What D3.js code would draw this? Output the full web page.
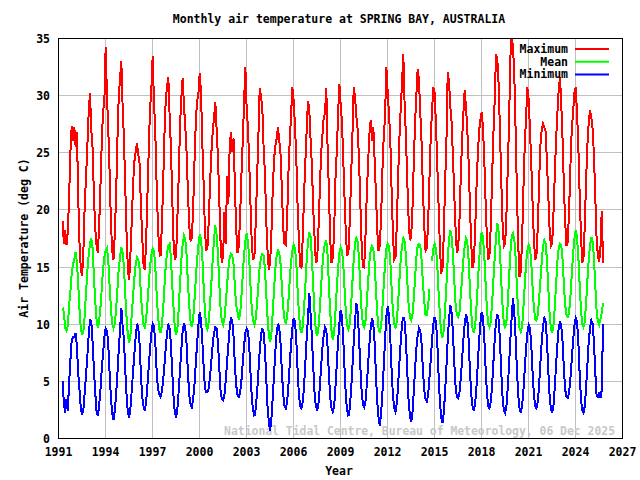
<!DOCTYPE html>
<html><head><meta charset="utf-8">
<script src="https://cdn.jsdelivr.net/npm/d3@7"></script>
<style>body{margin:0;background:#fff} svg{display:block}</style>
</head><body><svg id="c" width="640" height="480"></svg>
<script>
// ---- data ----
const startYear = 1991, startMonth = 4; // first value = April 1991, monthly values
const maxT = [
/*1991 Apr-Dec*/ 19.0,17.0,18.2,16.9,18.0,21.0,25.0,27.3,26.0,
/*1992*/ 27.2,25.5,26.8,21.0,17.0,14.7,14.2,16.5,20.5,22.8,25.6,28.4,
/*1993*/ 30.2,27.0,25.4,21.2,18.4,16.9,16.2,18.5,22.0,25.8,28.6,29.4,
/*1994*/ 34.2,30.0,27.0,23.4,19.0,16.4,15.6,17.8,21.2,26.0,29.8,31.4,
/*1995*/ 33.0,29.0,26.2,22.0,18.0,14.8,13.8,16.2,19.0,22.2,24.2,25.0,
/*1996*/ 25.8,24.8,24.0,20.4,17.6,15.2,14.7,17.2,21.2,25.2,28.8,30.5,
/*1997*/ 33.4,29.5,26.8,22.4,18.8,16.4,15.9,18.4,22.0,26.4,29.5,30.7,
/*1998*/ 31.6,28.2,25.4,21.0,17.2,15.6,16.0,19.5,23.0,27.4,29.8,31.5,
/*1999*/ 29.0,27.3,25.0,21.6,18.6,17.3,17.5,20.0,24.0,27.5,29.5,30.0,
/*2000*/ 31.9,30.4,26.0,22.4,18.4,16.4,16.8,19.0,22.4,25.0,26.8,28.0,
/*2001*/ 29.4,27.0,24.6,21.0,17.2,15.3,16.0,19.8,17.0,22.9,20.5,25.5,
/*2002*/ 26.8,25.0,26.2,22.0,18.2,16.2,16.8,19.4,23.0,26.0,29.2,32.5,
/*2003*/ 28.9,27.2,24.0,20.2,16.8,15.6,16.0,19.0,22.8,26.4,30.6,29.9,
/*2004*/ 28.9,25.4,23.2,19.0,16.4,14.7,15.4,18.0,21.8,24.4,25.6,26.2,
/*2005*/ 27.2,26.0,24.8,21.6,18.4,17.0,16.9,19.2,23.2,26.0,28.2,30.7,
/*2006*/ 29.5,27.4,24.6,20.4,17.4,15.0,14.9,17.6,21.4,24.2,27.0,29.5,
/*2007*/ 28.7,26.0,23.8,20.0,17.6,15.3,15.6,18.2,21.6,24.8,26.4,28.0,
/*2008*/ 28.4,30.6,25.4,21.6,17.4,15.3,15.8,18.0,22.6,25.0,28.2,31.0,
/*2009*/ 29.2,27.6,24.4,21.0,17.8,15.9,16.4,19.0,22.8,26.4,30.7,29.9,
/*2010*/ 28.2,27.0,24.6,20.8,17.2,15.0,14.9,17.6,21.2,24.0,26.6,27.8,
/*2011*/ 26.0,27.2,24.4,21.4,18.2,16.4,16.8,19.4,23.4,26.4,28.0,32.5,
/*2012*/ 30.3,28.4,26.2,21.8,18.0,15.6,15.8,18.6,22.8,26.2,28.8,31.0,
/*2013*/ 33.6,29.2,26.4,22.6,19.4,17.3,17.6,20.0,24.0,27.6,30.0,32.3,
/*2014*/ 31.3,28.4,25.8,21.8,18.6,16.4,16.6,18.8,22.6,26.4,28.6,30.7,
/*2015*/ 30.2,27.4,24.0,20.4,16.8,14.4,14.8,17.8,22.4,25.8,32.0,31.2,
/*2016*/ 29.0,27.6,24.6,21.4,18.4,16.2,16.6,19.0,22.8,26.0,28.4,30.4,
/*2017*/ 29.0,27.0,24.2,20.4,17.0,14.9,15.4,18.0,21.8,24.6,26.8,27.8,
/*2018*/ 28.5,27.2,24.4,20.8,17.6,15.6,16.0,18.6,22.8,26.6,29.6,33.6,
/*2019*/ 33.1,31.0,27.0,22.6,18.8,16.8,17.0,19.6,23.6,27.6,33.3,35.1,
/*2020*/ 34.2,31.8,27.0,21.6,17.0,14.1,14.6,17.4,21.8,25.6,28.0,30.7,
/*2021*/ 29.6,27.0,24.0,20.6,17.4,15.6,16.0,18.4,22.4,25.6,27.0,27.5,
/*2022*/ 27.2,26.8,24.2,21.4,18.4,16.8,17.0,19.6,23.0,26.0,28.4,30.4,
/*2023*/ 31.6,29.2,26.0,22.0,18.8,16.8,17.2,20.0,23.8,27.0,28.4,30.2,
/*2024*/ 30.7,28.6,25.8,21.6,18.0,15.3,15.8,18.6,22.6,25.6,27.6,28.7,
/*2025 Jan-Oct*/ 28.1,27.0,24.8,21.2,17.6,16.0,15.4,16.6,19.9,15.3
];
const meanT = [
/*1991 Apr-Dec*/ 11.4,11.0,9.6,9.4,9.8,11.6,12.8,14.4,15.2,
/*1992*/ 15.6,16.3,15.4,13.4,11.2,9.6,9.0,9.4,10.8,12.8,14.6,16.0,
/*1993*/ 17.0,17.5,16.6,14.2,12.0,10.4,9.6,10.2,11.4,13.0,14.8,15.8,
/*1994*/ 16.4,16.6,15.6,13.4,11.4,10.0,9.6,10.0,11.2,13.0,14.8,15.8,
/*1995*/ 16.7,16.2,15.0,12.6,10.6,9.0,8.3,9.0,10.8,12.4,14.0,15.2,
/*1996*/ 15.8,15.6,14.8,12.6,11.0,10.0,9.7,10.4,11.8,13.4,15.0,16.0,
/*1997*/ 16.6,16.4,15.0,12.8,10.8,9.6,9.2,9.8,11.2,13.2,15.0,16.2,
/*1998*/ 16.8,17.0,15.8,13.4,11.4,9.6,9.0,9.6,11.4,13.6,15.6,17.0,
/*1999*/ 17.7,17.4,16.0,13.6,11.6,10.2,9.7,10.4,12.0,13.8,15.6,16.8,
/*2000*/ 17.8,17.4,16.0,13.4,11.2,9.8,9.5,10.2,11.8,13.6,15.6,17.4,
/*2001*/ 18.6,17.8,16.2,13.6,11.4,10.2,9.9,10.4,11.8,13.4,14.8,15.8,
/*2002*/ 16.1,16.0,15.2,13.2,11.6,11.0,10.3,10.8,12.4,14.2,16.0,17.2,
/*2003*/ 17.9,17.2,15.6,13.2,11.2,10.2,9.9,10.4,11.8,13.4,15.0,15.8,
/*2004*/ 16.1,16.0,14.8,12.6,10.6,9.0,8.4,9.2,11.0,13.0,14.8,16.0,
/*2005*/ 16.4,16.2,15.2,13.2,11.4,10.4,10.0,10.6,12.0,13.8,15.4,16.4,
/*2006*/ 16.9,16.6,15.4,13.0,11.0,9.6,9.2,9.8,11.4,13.4,15.6,17.2,
/*2007*/ 18.0,17.6,15.8,13.2,11.0,9.4,8.9,9.6,11.2,13.2,15.0,16.4,
/*2008*/ 17.0,17.3,16.0,13.4,11.0,9.4,8.6,9.2,11.0,13.0,14.8,16.2,
/*2009*/ 16.7,16.4,15.2,13.0,11.0,9.8,9.5,10.0,11.6,13.6,15.6,17.0,
/*2010*/ 17.5,17.2,15.8,13.4,11.2,10.0,9.7,10.2,11.8,13.6,15.4,16.4,
/*2011*/ 16.8,16.6,15.4,13.0,11.0,9.6,9.2,9.8,11.4,13.4,15.2,16.6,
/*2012*/ 17.0,16.8,15.6,13.2,11.2,10.0,9.6,10.2,11.8,13.8,15.6,16.8,
/*2013*/ 17.5,17.2,16.0,13.8,11.8,10.6,10.3,10.8,12.2,14.0,15.8,16.8,
/*2014*/ 17.0,16.8,15.6,13.6,12.0,10.8,10.8,11.6,13.0,null,15.5,16.6,
/*2015*/ 17.0,16.6,15.2,12.8,10.8,9.2,8.8,9.4,11.2,13.4,15.6,17.4,
/*2016*/ 18.2,17.6,16.2,13.8,11.8,10.8,10.6,11.0,12.4,14.0,15.6,16.8,
/*2017*/ 17.5,17.2,15.6,13.2,11.0,9.6,9.2,9.8,11.4,13.4,15.4,17.0,
/*2018*/ 18.0,17.6,16.0,13.6,11.4,10.0,9.7,10.2,11.8,13.8,15.8,17.6,
/*2019*/ 18.8,18.0,16.4,13.8,11.6,10.0,9.6,10.2,11.8,14.0,16.2,17.6,
/*2020*/ 17.9,17.4,15.8,13.2,11.0,9.6,9.3,9.8,11.4,13.4,15.2,16.4,
/*2021*/ 16.9,16.6,15.4,13.2,11.4,10.4,10.3,10.8,12.2,13.8,15.4,16.8,
/*2022*/ 17.3,17.0,15.6,13.2,11.0,9.6,9.2,9.8,11.4,13.4,15.4,16.6,
/*2023*/ 17.0,16.8,15.6,13.4,11.6,10.8,10.6,11.0,12.4,14.2,16.0,17.4,
/*2024*/ 18.2,17.6,16.0,13.6,11.4,10.0,9.7,10.2,11.8,13.8,15.6,16.8,
/*2025 Jan-Oct*/ 17.6,17.2,15.8,13.4,11.2,10.2,9.9,10.4,11.0,11.8
];
const minT = [
/*1991 Apr-Dec*/ 5.0,3.0,2.2,3.4,2.4,4.8,6.8,8.6,8.8,
/*1992*/ 8.8,9.2,8.0,5.6,4.2,2.6,2.0,2.6,4.0,5.6,7.2,9.0,
/*1993*/ 10.3,10.2,8.4,6.0,4.0,2.4,1.9,2.8,4.2,6.0,7.4,8.8,
/*1994*/ 9.6,9.4,8.2,5.8,3.6,2.2,1.6,2.4,3.8,5.6,7.6,9.4,
/*1995*/ 11.4,9.8,8.6,6.0,3.8,2.2,1.8,2.6,4.2,5.8,7.4,8.8,
/*1996*/ 10.0,9.6,8.2,5.6,3.6,2.8,2.4,3.2,4.6,6.2,7.8,9.2,
/*1997*/ 10.0,9.8,8.4,6.0,4.4,3.8,3.6,4.0,5.0,6.4,7.8,9.2,
/*1998*/ 9.9,9.6,8.2,5.8,3.6,2.2,1.8,2.6,4.2,6.0,7.8,9.4,
/*1999*/ 10.0,9.6,8.2,5.8,3.8,3.0,2.7,3.4,4.6,6.4,8.2,9.8,
/*2000*/ 11.0,10.4,8.6,6.4,4.4,4.0,4.0,4.4,5.4,6.8,8.2,9.2,
/*2001*/ 9.7,9.6,8.4,6.2,4.2,3.4,3.3,3.8,5.0,6.6,8.2,9.6,
/*2002*/ 10.6,10.2,8.8,6.4,4.6,3.8,3.6,4.0,5.0,6.6,8.0,9.2,
/*2003*/ 9.6,9.4,8.0,5.6,3.4,2.4,1.9,2.6,4.0,5.8,7.6,9.0,
/*2004*/ 9.6,9.2,7.8,5.2,2.8,1.4,0.6,1.8,3.6,5.6,7.6,9.2,
/*2005*/ 10.0,9.6,8.2,5.8,3.8,2.8,2.6,3.2,4.6,6.4,8.2,9.6,
/*2006*/ 10.5,10.2,8.6,6.0,3.8,2.8,2.6,3.2,4.6,6.6,8.8,10.6,
/*2007*/ 12.7,10.8,8.8,6.2,4.0,2.8,2.4,3.0,4.4,6.2,7.8,9.0,
/*2008*/ 9.7,9.4,8.0,5.6,3.6,2.6,2.3,2.8,4.4,6.4,8.4,10.0,
/*2009*/ 11.2,10.6,8.6,6.0,3.6,2.4,1.9,2.6,4.2,6.2,8.4,10.2,
/*2010*/ 11.8,11.0,9.0,6.4,4.2,3.0,2.7,3.2,4.6,6.4,8.2,9.6,
/*2011*/ 10.5,10.0,8.4,5.6,3.2,1.8,1.1,2.2,4.0,6.2,8.6,10.6,
/*2012*/ 11.5,10.8,8.8,6.0,3.8,2.6,2.3,3.0,4.6,6.6,8.4,10.0,
/*2013*/ 10.6,10.2,8.6,5.8,3.4,2.0,1.4,2.2,4.0,6.0,7.8,9.0,
/*2014*/ 9.6,9.4,8.2,6.0,4.2,3.4,3.2,3.8,5.2,6.8,8.6,10.0,
/*2015*/ 10.6,10.2,8.4,5.6,3.2,1.8,1.3,2.2,4.0,6.2,8.6,10.4,
/*2016*/ 11.6,11.0,9.2,6.6,4.6,3.6,3.5,4.0,5.2,6.8,8.6,10.0,
/*2017*/ 10.8,10.4,8.6,6.0,3.8,2.8,2.4,3.0,4.4,6.4,8.4,10.0,
/*2018*/ 11.0,10.6,8.8,6.2,4.0,2.8,2.6,3.2,4.6,6.6,8.6,10.2,
/*2019*/ 10.8,10.4,8.6,5.8,3.6,2.4,2.2,2.8,4.4,6.4,8.6,10.6,
/*2020*/ 12.2,11.0,8.8,6.0,3.8,2.6,2.2,2.8,4.2,6.0,7.8,9.2,
/*2021*/ 9.9,9.6,8.2,5.8,3.8,2.8,2.6,3.2,4.6,6.6,8.4,9.8,
/*2022*/ 10.5,10.2,8.6,6.0,3.8,2.6,2.2,2.8,4.4,6.4,8.2,9.6,
/*2023*/ 10.2,9.8,8.4,6.0,4.2,3.6,3.5,4.0,5.2,6.8,8.4,9.8,
/*2024*/ 10.5,10.2,8.6,5.8,3.6,2.4,2.2,2.8,4.4,6.4,8.4,9.6,
/*2025 Jan-Oct*/ 10.3,10.0,8.4,5.8,3.8,3.6,4.0,3.5,4.2,10.0
];
const seriesNames = ["Maximum", "Mean", "Minimum"];
const seriesColors = ["#ff0000", "#00ff00", "#0000ff"];
const xTicks = [1991, 1994, 1997, 2000, 2003, 2006, 2009, 2012, 2015, 2018, 2021, 2024, 2027];
const yTicks = [0, 5, 10, 15, 20, 25, 30, 35];
const titleText = "Monthly air temperature at SPRING BAY, AUSTRALIA";
const xLabel = "Year";
const yLabel = "Air Temperature (deg C)";
const creditText = "National Tidal Centre, Bureau of Meteorology, 06 Dec 2025";

// ---- drawing ----
const FONT = "'DejaVu Sans Mono', 'Liberation Mono', monospace";
const L = 58, R = 622, T = 38, B = 438;
const svg = d3.select("#c");
const x = d3.scaleLinear().domain([1991, 2027]).range([L, R]);
const y = d3.scaleLinear().domain([0, 35]).range([B, T]);
const tOf = i => startYear + (startMonth - 1 + i + 0.5) / 12;

svg.append("rect").attr("width", 640).attr("height", 480).attr("fill", "#fff");

// grid
const grid = svg.append("g").attr("stroke", "#c0c0c0").attr("stroke-width", 1).attr("shape-rendering", "crispEdges");
grid.selectAll(".gx").data(xTicks.slice(1, -1)).join("line")
  .attr("x1", d => Math.round(x(d)) + 0.5).attr("x2", d => Math.round(x(d)) + 0.5)
  .attr("y1", T).attr("y2", B);
grid.selectAll(".gy").data(yTicks.slice(1, -1)).join("line")
  .attr("y1", d => Math.round(y(d)) + 0.5).attr("y2", d => Math.round(y(d)) + 0.5)
  .attr("x1", L).attr("x2", R);

// credit watermark
svg.append("text").attr("x", 615).attr("y", 435).attr("text-anchor", "end")
  .attr("font-family", FONT).attr("font-size", 11.4).attr("font-weight", "bold")
  .attr("fill", "#c8c8c8").text(creditText);

// series
svg.append("clipPath").attr("id", "clip").append("rect")
  .attr("x", L).attr("y", T).attr("width", R - L).attr("height", B - T);
const seriesData = [maxT, meanT, minT];
const line = d3.line().defined(d => d != null).x((d, i) => x(tOf(i))).y(d => y(d));
const lineG = svg.append("g").attr("clip-path", "url(#clip)");
seriesData.forEach((arr, k) => {
  lineG.append("path").attr("d", line(arr)).attr("fill", "none")
    .attr("stroke", seriesColors[k]).attr("stroke-width", 2)
    .attr("stroke-linejoin", "miter").attr("shape-rendering", "crispEdges");
});

// axes (labels only; grid lines meet the border)
const axB = d3.axisBottom(x).tickValues(xTicks).tickFormat(d3.format("d")).tickSize(0).tickPadding(10);
const axL = d3.axisLeft(y).tickValues(yTicks).tickSize(0).tickPadding(8);
function style(g) {
  g.select(".domain").remove();
  g.selectAll("line").remove();
  g.selectAll("text").attr("font-family", FONT).attr("font-size", 11.5).attr("font-weight", "bold").attr("fill", "#000");
}
svg.append("g").attr("transform", `translate(0,${B})`).call(axB).call(style);
svg.append("g").attr("transform", `translate(${L},0.8)`).call(axL).call(style);

// border
svg.append("rect").attr("x", L + 0.5).attr("y", T + 0.5).attr("width", R - L).attr("height", B - T)
  .attr("fill", "none").attr("stroke", "#000").attr("shape-rendering", "crispEdges");

// title and axis labels
const txt = (xx, yy, s, anchor) => svg.append("text").attr("x", xx).attr("y", yy)
  .attr("text-anchor", anchor || "middle").attr("font-family", FONT).attr("font-size", 11.5)
  .attr("font-weight", "bold").attr("fill", "#000").text(s);
txt(339, 23, titleText);
txt(339, 475, xLabel);
txt(0, 0, yLabel).attr("transform", "translate(28,238) rotate(-90)");

// legend
seriesNames.forEach((n, k) => {
  const yy = 49 + k * 12.7;
  txt(568, yy + 4, n, "end");
  svg.append("line").attr("x1", 575).attr("x2", 609).attr("y1", yy).attr("y2", yy)
    .attr("stroke", seriesColors[k]).attr("stroke-width", 2);
});
</script>
</body></html>
